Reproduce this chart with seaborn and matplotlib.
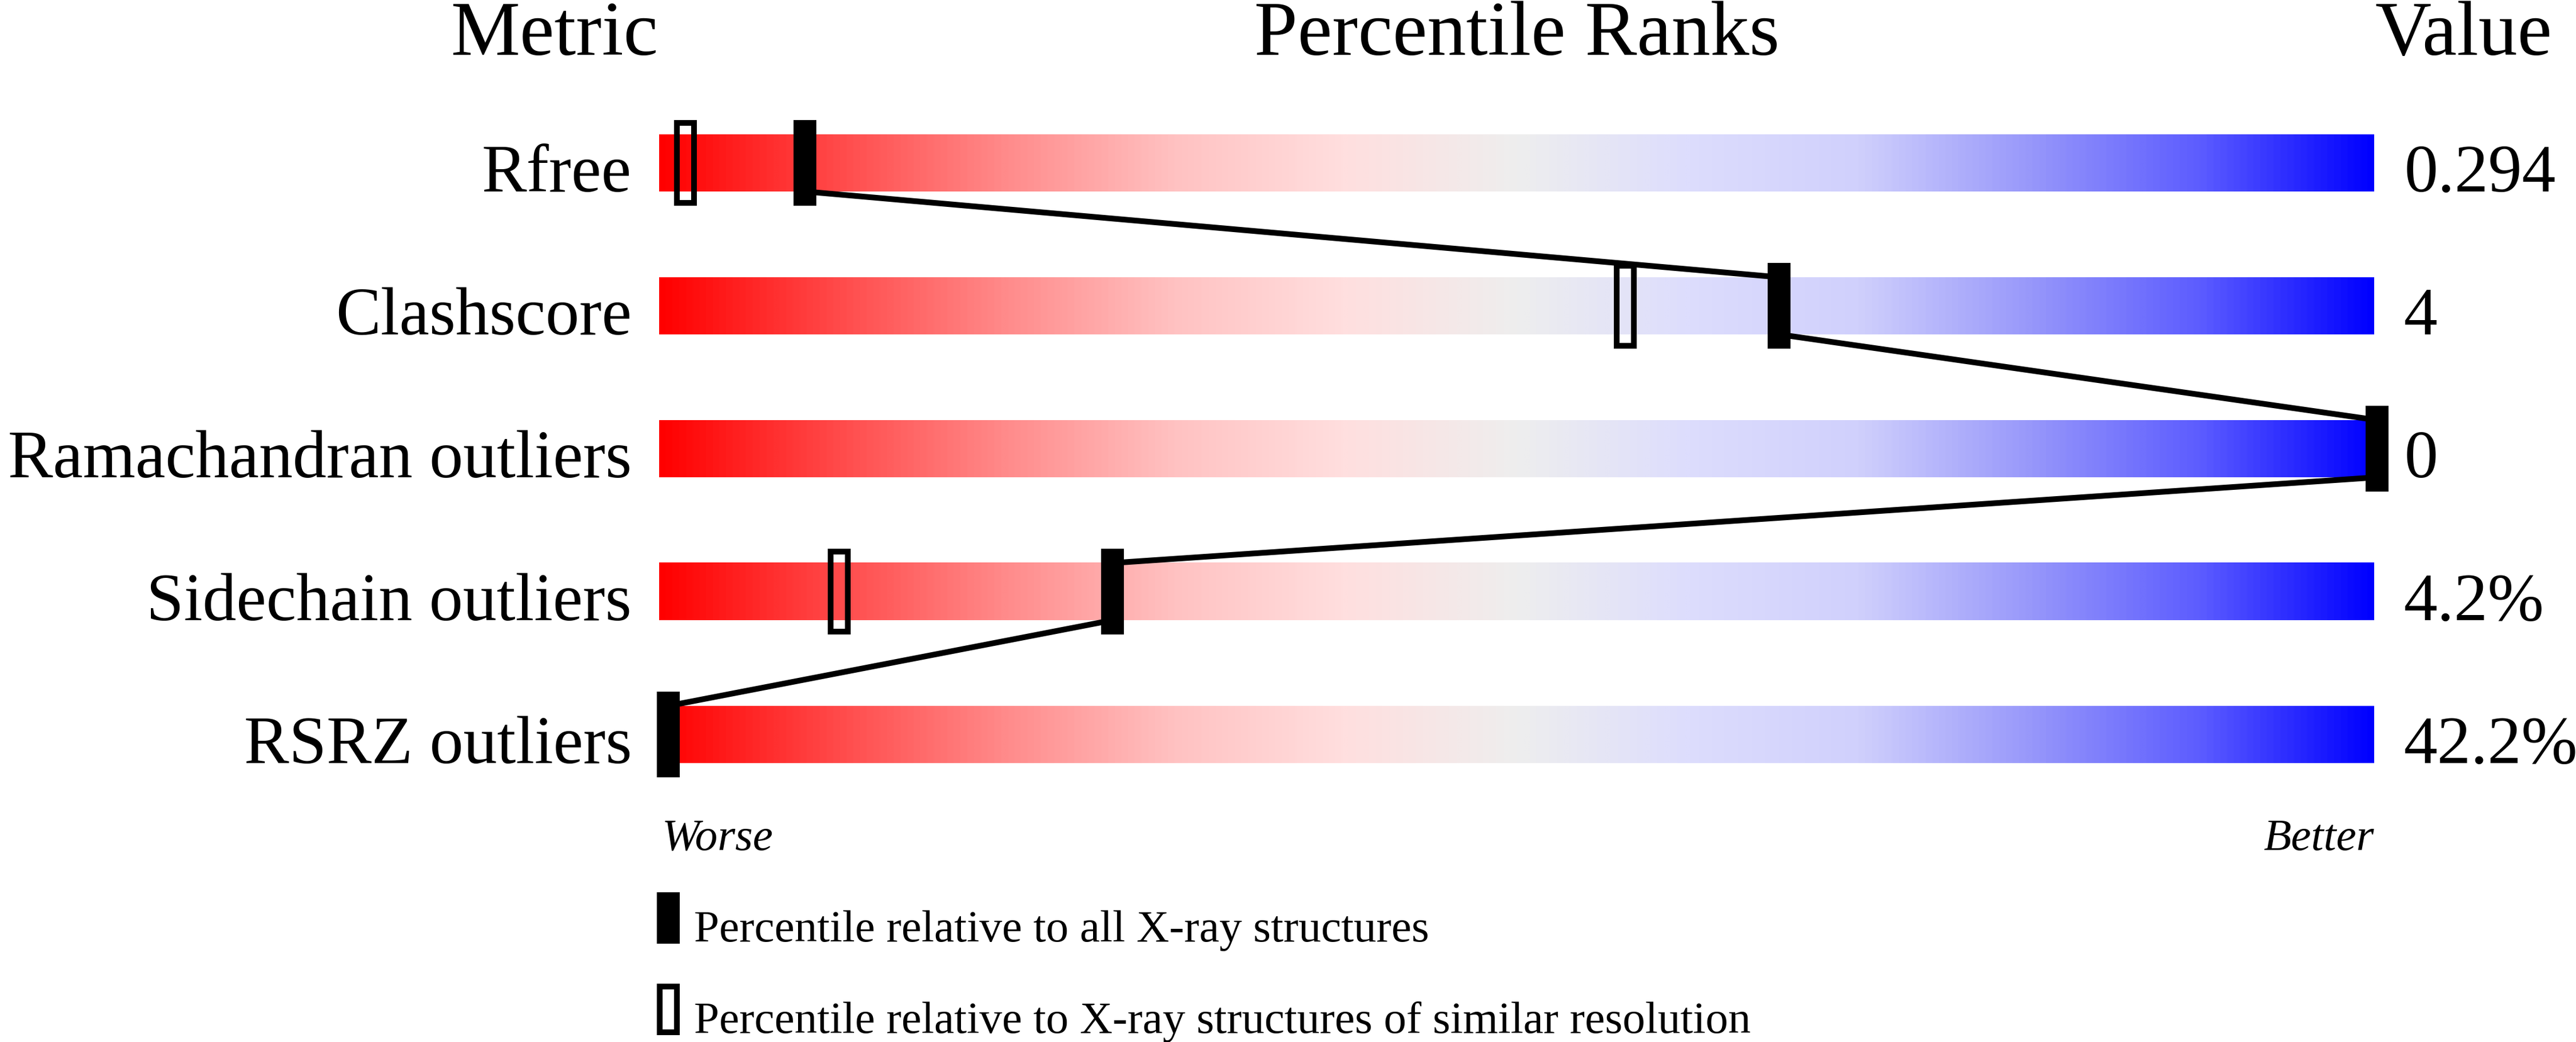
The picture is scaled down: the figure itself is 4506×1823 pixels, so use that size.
import numpy as np
import pandas as pd
import matplotlib
matplotlib.use("Agg")
import matplotlib.pyplot as plt
import seaborn as sns
from matplotlib.colors import LinearSegmentedColormap
from matplotlib.patches import Rectangle

# ---------------- data ----------------
metrics = ["Rfree", "Clashscore", "Ramachandran outliers", "Sidechain outliers", "RSRZ outliers"]
values = ["0.294", "4", "0", "4.2%", "42.2%"]
pct_all = [8, 65, 100, 26, 0]          # percentile relative to all X-ray structures
pct_similar = [1, 56, 100, 10, 0]      # percentile relative to similar resolution
header_metric = "Metric"
header_ranks = "Percentile Ranks"
header_value = "Value"
worse_label = "Worse"
better_label = "Better"
legend_labels = ["Percentile relative to all X-ray structures",
                 "Percentile relative to X-ray structures of similar resolution"]
grad_stops = [(0.0, "#ff0000"), (0.1, "#ff4848"), (0.2, "#ff8a8a"), (0.3, "#ffc2c2"),
              (0.4, "#ffdfdf"), (0.5, "#eeeeee"), (0.6, "#ddddfd"), (0.7, "#d0d0fc"),
              (0.8, "#9898fa"), (0.9, "#5c5cff"), (1.0, "#0000ff")]

# ---------------- figure ----------------
sns.set_theme(style="white")
plt.rcParams["font.family"] = ["Liberation Serif", "DejaVu Serif"]
plt.rcParams["text.color"] = "black"

W, H, DPI = 4506, 1824, 100
fig = plt.figure(figsize=(W / DPI, H / DPI), dpi=DPI)
ax = fig.add_axes([0, 0, 1, 1])
ax.set_axis_off()

# pixel geometry -> data geometry (x: percentile, 30 px / unit; y: row index, 250 px / row)
PX_X, X0 = 30.0, 1153.0
PX_Y, Y0 = 250.0, 286.0
ax.set_xlim(-X0 / PX_X, (W - X0) / PX_X)
ax.set_ylim((H - Y0) / PX_Y, -Y0 / PX_Y)

bar_h = 100 / PX_Y
mk_h = 150 / PX_Y
mk_w = 40 / PX_X
lw_px = 10
lw_pt = lw_px * 72 / DPI

cmap = LinearSegmentedColormap.from_list("slider", grad_stops)
grad = np.linspace(0, 1, 1024)[None, :]

n = len(metrics)
rows = np.arange(n)

def centre(p):
    # marker centre along the slider (markers stay on the bar)
    return (-4 + p / 100 * 2989) / PX_X + mk_w / 2

# gradient bars
for i in rows:
    ax.imshow(grad, cmap=cmap, aspect="auto", interpolation="bilinear",
              extent=(0, 100, i + bar_h / 2, i - bar_h / 2), zorder=1)

# connecting line through the "all structures" markers
cx_all = [centre(p) for p in pct_all]
line_df = pd.DataFrame({
    "x": np.repeat(cx_all, 2),
    "y": np.ravel([[i - bar_h / 2, i + bar_h / 2] for i in rows]),
})
sns.lineplot(data=line_df, x="x", y="y", sort=False, estimator=None, color="black",
             linewidth=lw_pt, ax=ax, zorder=3)
ax.lines[-1].set_solid_capstyle("butt")

# open markers (similar resolution)
for i, p in zip(rows, pct_similar):
    c = centre(p)
    ax.add_patch(Rectangle((c - (mk_w - lw_px / PX_X) / 2, i - (mk_h - lw_px / PX_Y) / 2),
                           mk_w - lw_px / PX_X, mk_h - lw_px / PX_Y,
                           fill=False, edgecolor="black", linewidth=lw_pt, zorder=4))

# filled markers (all structures)
ax.barh(rows, [mk_w] * n, left=[c - mk_w / 2 for c in cx_all], height=mk_h,
        color="black", edgecolor="none", zorder=5)

# labels and values
lab_fs, head_fs, small_fs = 85, 98, 57
for i in rows:
    ax.text((1105 - X0) / PX_X, i + 49 / PX_Y, metrics[i], ha="right", va="baseline",
            fontsize=lab_fs, color="black")
    ax.text((4205 - X0) / PX_X, i + 49 / PX_Y, values[i], ha="left", va="baseline",
            fontsize=lab_fs, color="black")

head_y = (96 - Y0) / PX_Y
ax.text((1151 - X0) / PX_X, head_y, header_metric, ha="right", va="baseline",
        fontsize=head_fs, color="black")
ax.text(50, head_y, header_ranks, ha="center", va="baseline", fontsize=head_fs, color="black")
ax.text((4155 - X0) / PX_X, head_y, header_value, ha="left", va="baseline",
        fontsize=head_fs, color="black")

wb_y = (1487 - Y0) / PX_Y
ax.text(5 / PX_X, wb_y, worse_label, ha="left", va="baseline", fontsize=small_fs,
        style="italic", color="black")
ax.text(100, wb_y, better_label, ha="right", va="baseline", fontsize=small_fs,
        style="italic", color="black")

# legend
leg_top = [(1562 - Y0) / PX_Y, (1722 - Y0) / PX_Y]
leg_base = [(1647 - Y0) / PX_Y, (1807 - Y0) / PX_Y]
leg_h = 90 / PX_Y
lx = -4 / PX_X
ax.add_patch(Rectangle((lx, leg_top[0]), mk_w, leg_h, facecolor="black", edgecolor="none", zorder=5))
ax.add_patch(Rectangle((lx + lw_px / PX_X / 2, leg_top[1] + lw_px / PX_Y / 2),
                       mk_w - lw_px / PX_X, leg_h - lw_px / PX_Y,
                       fill=False, edgecolor="black", linewidth=lw_pt, zorder=5))
for k in range(2):
    ax.text((1214 - X0) / PX_X, leg_base[k], legend_labels[k], ha="left", va="baseline",
            fontsize=small_fs, color="black")

fig.savefig("out.png", dpi=DPI, facecolor="white")
